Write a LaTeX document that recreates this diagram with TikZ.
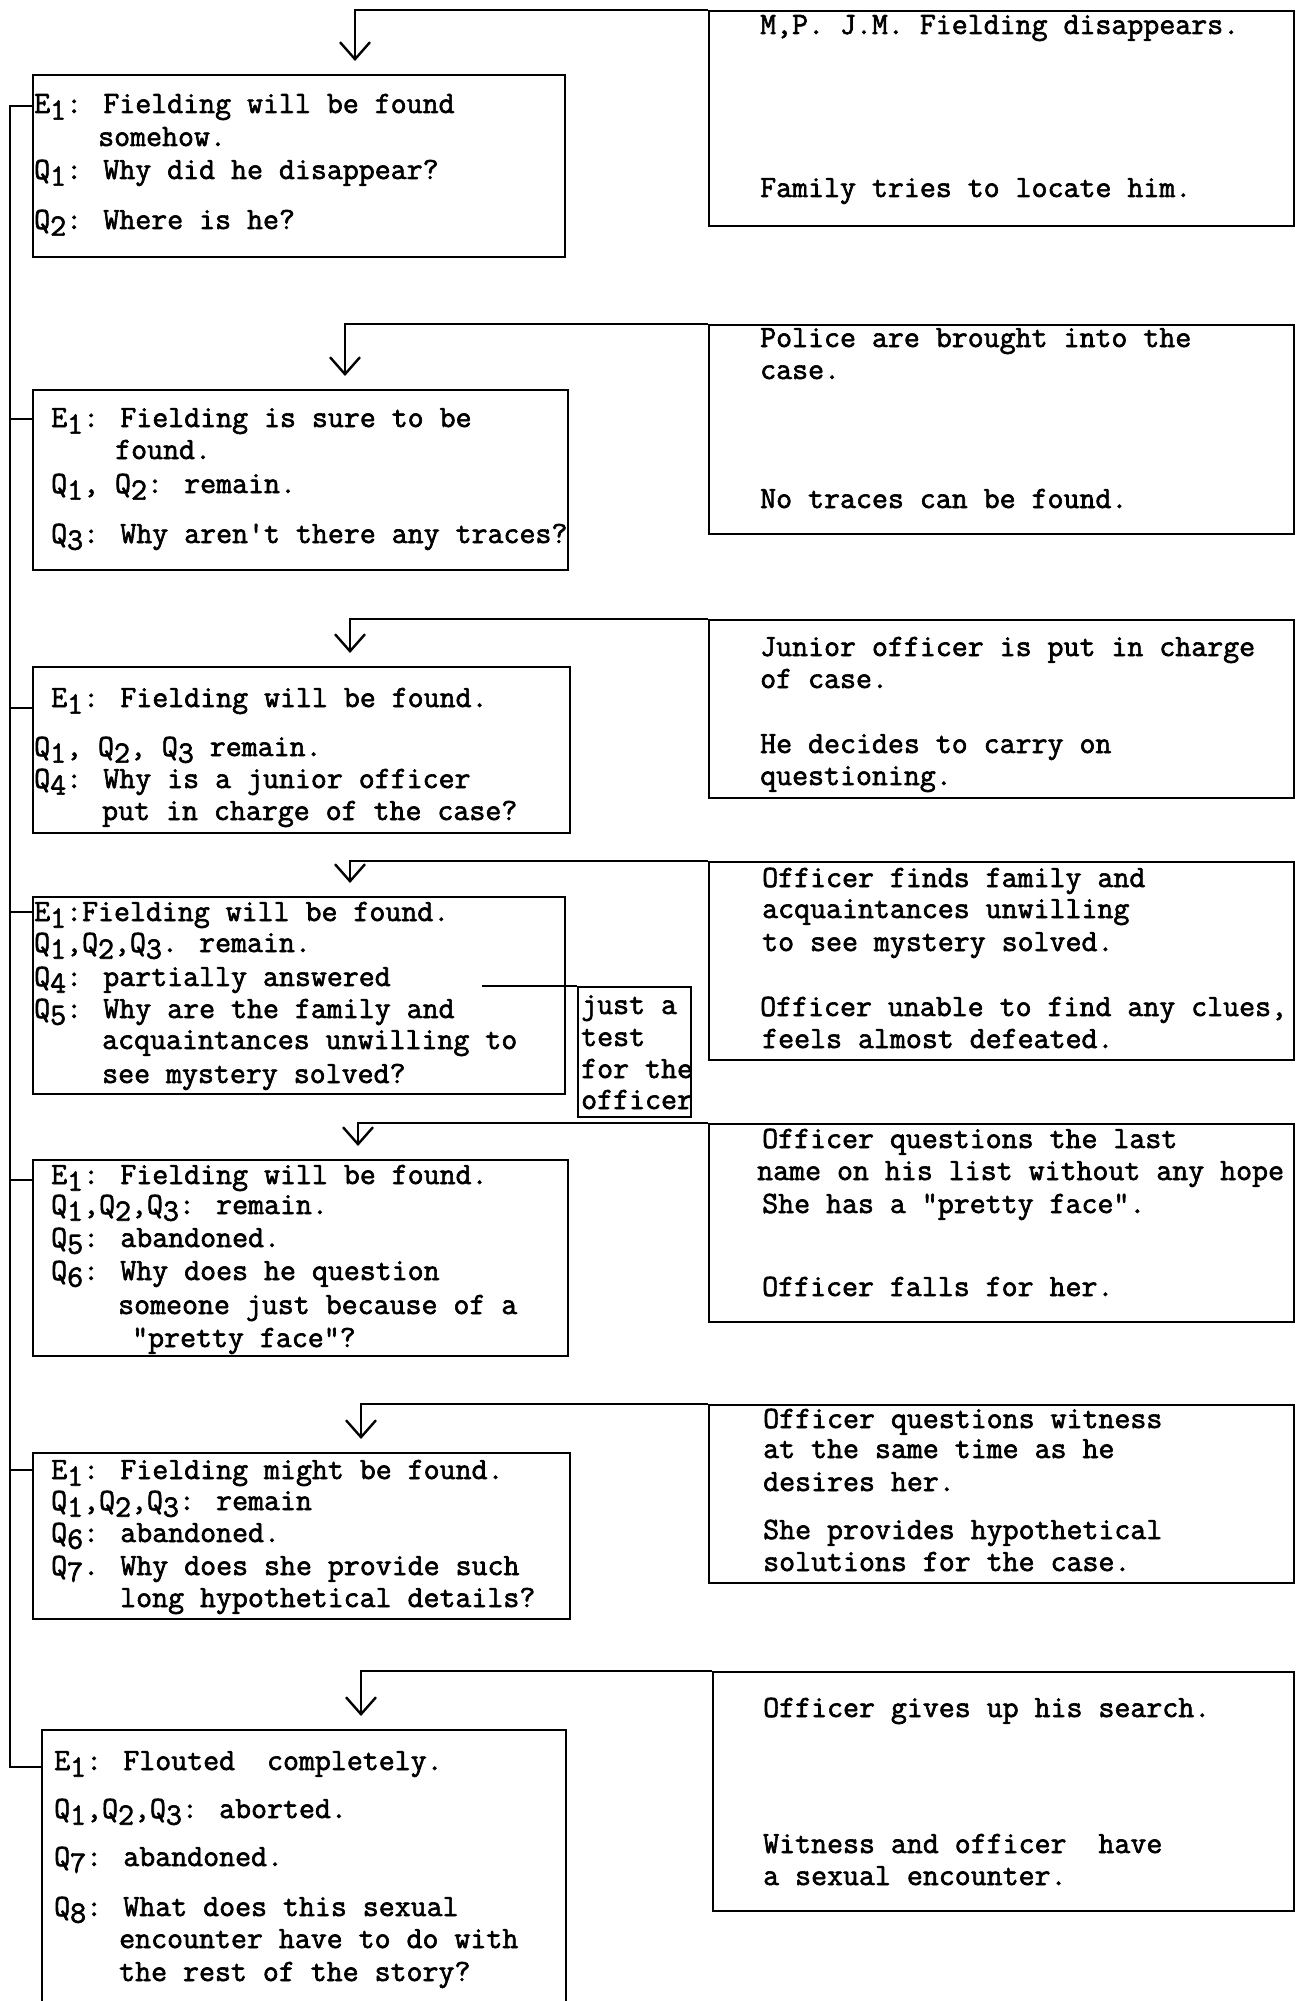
\documentclass[tikz,border=0pt]{standalone}
\usepackage{fontspec}
\usepackage{tikz}
\usetikzlibrary{arrows.meta}
\newfontfamily\typer{Latin Modern Mono}[FakeBold=2]
\newcommand{\dn}[1]{\raisebox{-0.5ex}[\height][0pt]{#1}}
\tikzset{
    x=1pt, y=-1pt, font=\typer\fontsize{31}{36}\selectfont,
    qbox/.style={draw, line width=2.2pt, anchor=north west, inner sep=0pt},
    ebox/.style={draw, line width=2.2pt, anchor=north west, inner sep=0pt},
    tbox/.style={draw, line width=1.8pt, anchor=north west, inner sep=0pt},
    ln/.style={anchor=base west, inner sep=0pt},
    flow/.style={-{Straight Barb[length=17pt, width=30pt, line width=2.4pt]},
                 line width=2.2pt, shorten >=13pt},
    spine/.style={line width=2.2pt},
}

\begin{document}
\begin{tikzpicture}
    \useasboundingbox (0,0) rectangle (1304,2001);

    % events (right) and expectations / questions (left)
    \node[ebox, minimum width=585pt, minimum height=215pt] (e1) at (708,10) {};
    \node[ln] (e1a) at (760,34) {M,P. J.M. Fielding disappears.};
    \node[ln] (e1b) at (760,197) {Family tries to locate him.};

    \node[qbox, minimum width=532pt, minimum height=182pt] (q1) at (32,74) {};
    \node[ln] (q1a) at (34,113) {E\dn{1}: Fielding will be found};
    \node[ln] (q1b) at (98,146) {somehow.};
    \node[ln] (q1c) at (34,179) {Q\dn{1}: Why did he disappear?};
    \node[ln] (q1d) at (34,229) {Q\dn{2}: Where is he?};

    \node[ebox, minimum width=585pt, minimum height=209pt] (e2) at (708,324) {};
    \node[ln] (e2a) at (760,347) {Police are brought into the};
    \node[ln] (e2b) at (760,379) {case.};
    \node[ln] (e2c) at (760,508) {No traces can be found.};

    \node[qbox, minimum width=535pt, minimum height=180pt] (q2) at (32,389) {};
    \node[ln] (q2a) at (51,427) {E\dn{1}: Fielding is sure to be};
    \node[ln] (q2b) at (115,459) {found.};
    \node[ln] (q2c) at (51,493) {Q\dn{1}, Q\dn{2}: remain.};
    \node[ln] (q2d) at (51,543) {Q\dn{3}: Why aren't there any traces?};

    \node[ebox, minimum width=585pt, minimum height=178pt] (e3) at (708,619) {};
    \node[ln] (e3a) at (760,656) {Junior officer is put in charge};
    \node[ln] (e3b) at (760,688) {of case.};
    \node[ln] (e3c) at (760,753) {He decides to carry on};
    \node[ln] (e3d) at (760,785) {questioning.};

    \node[qbox, minimum width=537pt, minimum height=166pt] (q3) at (32,666) {};
    \node[ln] (q3a) at (51,707) {E\dn{1}: Fielding will be found.};
    \node[ln] (q3b) at (34,756) {Q\dn{1}, Q\dn{2}, Q\dn{3} remain.};
    \node[ln] (q3c) at (34,788) {Q\dn{4}: Why is a junior officer};
    \node[ln] (q3d) at (102,820) {put in charge of the case?};

    \node[ebox, minimum width=585pt, minimum height=198pt] (e4) at (708,861) {};
    \node[ln] (e4a) at (762,887) {Officer finds family and};
    \node[ln] (e4b) at (762,918) {acquaintances unwilling};
    \node[ln] (e4c) at (762,951) {to see mystery solved.};
    \node[ln] (e4d) at (760,1016) {Officer unable to find any clues,};
    \node[ln] (e4e) at (762,1048) {feels almost defeated.};

    \node[qbox, minimum width=532pt, minimum height=197pt] (q4) at (32,896) {};
    \node[ln] (q4a) at (34,921) {E\dn{1}:Fielding will be found.};
    \node[ln] (q4b) at (34,952) {Q\dn{1},Q\dn{2},Q\dn{3}. remain.};
    \node[ln] (q4c) at (34,986) {Q\dn{4}: partially answered};
    \node[ln] (q4d) at (34,1018) {Q\dn{5}: Why are the family and};
    \node[ln] (q4e) at (102,1049) {acquaintances unwilling to};
    \node[ln] (q4f) at (102,1083) {see mystery solved?};

    \node[tbox, minimum width=113pt, minimum height=130pt] (test) at (577,986) {};
    \node[ln] (testa) at (581,1014) {just a};
    \node[ln] (testb) at (581,1046) {test};
    \node[ln] (testc) at (581,1078) {for the};
    \node[ln] (testd) at (581,1109) {officer};

    \node[ebox, minimum width=585pt, minimum height=198pt] (e5) at (708,1123) {};
    \node[ln] (e5a) at (762,1148) {Officer questions the last};
    \node[ln] (e5b) at (757,1180) {name on his list without any hope};
    \node[ln] (e5c) at (762,1213) {She has a "pretty face".};
    \node[ln] (e5d) at (762,1296) {Officer falls for her.};

    \node[qbox, minimum width=535pt, minimum height=196pt] (q5) at (32,1159) {};
    \node[ln] (q5a) at (51,1184) {E\dn{1}: Fielding will be found.};
    \node[ln] (q5b) at (51,1214) {Q\dn{1},Q\dn{2},Q\dn{3}: remain.};
    \node[ln] (q5c) at (51,1247) {Q\dn{5}: abandoned.};
    \node[ln] (q5d) at (51,1280) {Q\dn{6}: Why does he question};
    \node[ln] (q5e) at (118,1314) {someone just because of a};
    \node[ln] (q5f) at (132,1347) {"pretty face"?};

    \node[ebox, minimum width=585pt, minimum height=178pt] (e6) at (708,1404) {};
    \node[ln] (e6a) at (763,1428) {Officer questions witness};
    \node[ln] (e6b) at (763,1458) {at the same time as he};
    \node[ln] (e6c) at (763,1491) {desires her.};
    \node[ln] (e6d) at (763,1539) {She provides hypothetical};
    \node[ln] (e6e) at (763,1571) {solutions for the case.};

    \node[qbox, minimum width=537pt, minimum height=166pt] (q6) at (32,1452) {};
    \node[ln] (q6a) at (51,1479) {E\dn{1}: Fielding might be found.};
    \node[ln] (q6b) at (51,1510) {Q\dn{1},Q\dn{2},Q\dn{3}: remain};
    \node[ln] (q6c) at (51,1542) {Q\dn{6}: abandoned.};
    \node[ln] (q6d) at (51,1575) {Q\dn{7}. Why does she provide such};
    \node[ln] (q6e) at (120,1607) {long hypothetical details?};

    \node[ebox, minimum width=581pt, minimum height=239pt] (e7) at (712,1671) {};
    \node[ln] (e7a) at (763,1717) {Officer gives up his search.};
    \node[ln] (e7b) at (763,1853) {Witness and officer\ \ have};
    \node[ln] (e7c) at (763,1885) {a sexual encounter.};

    \node[qbox, minimum width=524pt, minimum height=330pt] (q7) at (41,1729) {};
    \node[ln] (q7a) at (54,1770) {E\dn{1}: Flouted\ \ completely.};
    \node[ln] (q7b) at (54,1818) {Q\dn{1},Q\dn{2},Q\dn{3}: aborted.};
    \node[ln] (q7c) at (54,1866) {Q\dn{7}: abandoned.};
    \node[ln] (q7d) at (54,1916) {Q\dn{8}: What does this sexual};
    \node[ln] (q7e) at (119,1948) {encounter have to do with};
    \node[ln] (q7f) at (119,1981) {the rest of the story?};

    % arrows from each event to its box
    \coordinate (k1) at (355,0);
    \coordinate (k2) at (345,0);
    \coordinate (k3) at (350,0);
    \coordinate (k4) at (350,0);
    \coordinate (k5) at (358,0);
    \coordinate (k6) at (361,0);
    \coordinate (k7) at (361,0);
    \foreach \i in {1,...,7} {
        \draw[flow] (e\i.north west) -| (k\i |- q\i.north);
    }

    \coordinate (ans) at (482,986);
    \draw[spine] (ans) -- (test.north west);

    % left spine
    \coordinate (s1) at (10,106);
    \coordinate (s2) at (10,419);
    \coordinate (s3) at (10,708);
    \coordinate (s4) at (10,912);
    \coordinate (s5) at (10,1180);
    \coordinate (s6) at (10,1470);
    \coordinate (s7) at (10,1767);
    \draw[spine] (s1 -| q1.west) -- (s1) -- (s7) -- (s7 -| q7.west);
    \foreach \i in {2,...,6} {
        \draw[spine] (s\i) -- (s\i -| q\i.west);
    }
\end{tikzpicture}
\end{document}
